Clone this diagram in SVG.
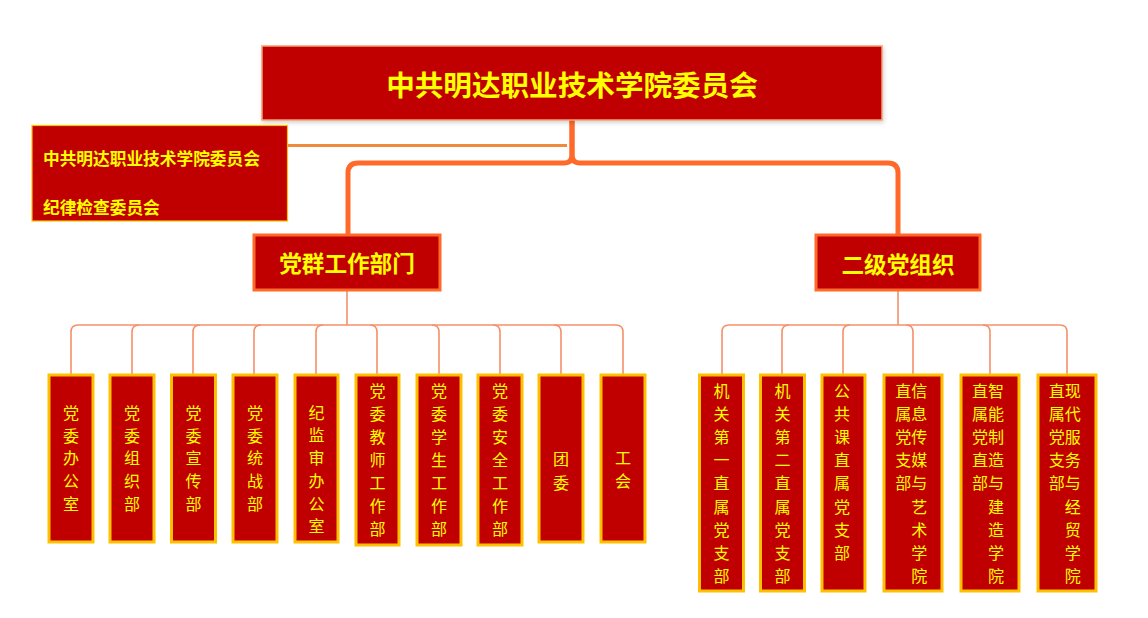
<svg xmlns="http://www.w3.org/2000/svg" width="1148" height="618" viewBox="0 0 1148 618">
<defs>
<filter id="sh" x="-5%" y="-10%" width="110%" height="130%">
<feDropShadow dx="1" dy="2" stdDeviation="2" flood-color="#000" flood-opacity="0.18"/>
</filter>
</defs>
<style>
.box{fill:#C00000}
.top{stroke:#F4A070;stroke-width:1.5}
.side{stroke:#FFC000;stroke-width:1.2}
.mid{stroke:#FF6A2A;stroke-width:3}
.leaf{stroke:#FFC000;stroke-width:3}
.t{font-family:"Noto Sans CJK SC","Noto Sans",sans-serif;fill:#FFFF00;dominant-baseline:central}
.b{font-weight:bold}
.c{text-anchor:middle}
.lt{font-size:16px}
.thick{fill:none;stroke:#FF6A2A;stroke-width:5;stroke-linejoin:round}
.side-line{fill:none;stroke:#F08A3C;stroke-width:3.2}
.thin{fill:none;stroke:#F4906A;stroke-width:1.6}
</style>
<rect x="0" y="0" width="1148" height="618" fill="#FFFFFF"/>

<g id="connectors">
<path class="side-line" d="M288,145.5 H567"/>
<path class="thick" d="M572,120 V155 Q572,163 564,163 H358 Q348,163 348,173 V235"/>
<path class="thick" d="M572,120 V155 Q572,163 580,163 H888 Q898,163 898,173 V235"/>
<path class="thin" d="M347,290 V325"/>
<path class="thin" d="M898,290 V325"/>
<path class="thin" d="M78,325 H616"/>
<path class="thin" d="M78,325 Q71,325 71,332 V375"/>
<path class="thin" d="M139,325 Q132,325 132,332 V375"/>
<path class="thin" d="M200,325 Q193,325 193,332 V375"/>
<path class="thin" d="M261,325 Q254,325 254,332 V375"/>
<path class="thin" d="M323,325 Q316,325 316,332 V375"/>
<path class="thin" d="M370,325 Q377,325 377,332 V375"/>
<path class="thin" d="M432,325 Q439,325 439,332 V375"/>
<path class="thin" d="M493,325 Q500,325 500,332 V375"/>
<path class="thin" d="M554,325 Q561,325 561,332 V375"/>
<path class="thin" d="M616,325 Q623,325 623,332 V375"/>
<path class="thin" d="M729,325 H1060"/>
<path class="thin" d="M729,325 Q722,325 722,332 V375"/>
<path class="thin" d="M789,325 Q782,325 782,332 V375"/>
<path class="thin" d="M850,325 Q843,325 843,332 V375"/>
<path class="thin" d="M906,325 Q913,325 913,332 V375"/>
<path class="thin" d="M983,325 Q990,325 990,332 V375"/>
<path class="thin" d="M1060,325 Q1067,325 1067,332 V375"/>
</g>

<g id="root">
<rect class="box top" x="262" y="46" width="620" height="74" filter="url(#sh)"/>
<text class="t b c" x="572" y="83" font-size="28.6">中共明达职业技术学院委员会</text>
</g>

<g id="discipline">
<rect class="box side" x="32" y="125.5" width="255.5" height="95.5"/>
<text class="t b" x="43" y="157.5" font-size="16.7">中共明达职业技术学院委员会</text>
<text class="t b" x="43" y="206.5" font-size="16.7">纪律检查委员会</text>
</g>

<g id="dept">
<rect class="box mid" x="254" y="235" width="186" height="55"/>
<text class="t b c" x="347" y="262.5" font-size="22.6">党群工作部门</text>
</g>

<g id="org">
<rect class="box mid" x="816" y="235" width="164" height="55"/>
<text class="t b c" x="898" y="263" font-size="22.6">二级党组织</text>
</g>

<g id="l1"><rect class="box leaf" x="49" y="375" width="44" height="167"/>
<text class="t c lt"><tspan x="71" y="411.7">党</tspan><tspan x="71" dy="22.8">委</tspan><tspan x="71" dy="22.8">办</tspan><tspan x="71" dy="22.8">公</tspan><tspan x="71" dy="22.8">室</tspan></text></g>
<g id="l2"><rect class="box leaf" x="110" y="375" width="44" height="167"/>
<text class="t c lt"><tspan x="132" y="411.7">党</tspan><tspan x="132" dy="22.8">委</tspan><tspan x="132" dy="22.8">组</tspan><tspan x="132" dy="22.8">织</tspan><tspan x="132" dy="22.8">部</tspan></text></g>
<g id="l3"><rect class="box leaf" x="171.5" y="375" width="44" height="167"/>
<text class="t c lt"><tspan x="193.5" y="411.7">党</tspan><tspan x="193.5" dy="22.8">委</tspan><tspan x="193.5" dy="22.8">宣</tspan><tspan x="193.5" dy="22.8">传</tspan><tspan x="193.5" dy="22.8">部</tspan></text></g>
<g id="l4"><rect class="box leaf" x="233" y="375" width="44" height="167"/>
<text class="t c lt"><tspan x="255" y="411.7">党</tspan><tspan x="255" dy="22.8">委</tspan><tspan x="255" dy="22.8">统</tspan><tspan x="255" dy="22.8">战</tspan><tspan x="255" dy="22.8">部</tspan></text></g>
<g id="l5"><rect class="box leaf" x="295" y="375" width="43" height="167"/>
<text class="t c lt"><tspan x="316.5" y="411.7">纪</tspan><tspan x="316.5" dy="22.7">监</tspan><tspan x="316.5" dy="22.7">审</tspan><tspan x="316.5" dy="22.7">办</tspan><tspan x="316.5" dy="22.7">公</tspan><tspan x="316.5" dy="22.7">室</tspan></text></g>
<g id="l6"><rect class="box leaf" x="356" y="375" width="43" height="170"/>
<text class="t c lt"><tspan x="377.5" y="390">党</tspan><tspan x="377.5" dy="23">委</tspan><tspan x="377.5" dy="23">教</tspan><tspan x="377.5" dy="23">师</tspan><tspan x="377.5" dy="23">工</tspan><tspan x="377.5" dy="23">作</tspan><tspan x="377.5" dy="23">部</tspan></text></g>
<g id="l7"><rect class="box leaf" x="417" y="375" width="44" height="170"/>
<text class="t c lt"><tspan x="439" y="390">党</tspan><tspan x="439" dy="23">委</tspan><tspan x="439" dy="23">学</tspan><tspan x="439" dy="23">生</tspan><tspan x="439" dy="23">工</tspan><tspan x="439" dy="23">作</tspan><tspan x="439" dy="23">部</tspan></text></g>
<g id="l8"><rect class="box leaf" x="478" y="375" width="44" height="170"/>
<text class="t c lt"><tspan x="500" y="390">党</tspan><tspan x="500" dy="23">委</tspan><tspan x="500" dy="23">安</tspan><tspan x="500" dy="23">全</tspan><tspan x="500" dy="23">工</tspan><tspan x="500" dy="23">作</tspan><tspan x="500" dy="23">部</tspan></text></g>
<g id="l9"><rect class="box leaf" x="539" y="375" width="44" height="167"/>
<text class="t c lt"><tspan x="561" y="458">团</tspan><tspan x="561" dy="23.5">委</tspan></text></g>
<g id="l10"><rect class="box leaf" x="601" y="375" width="44" height="167"/>
<text class="t c lt"><tspan x="623" y="456.7">工</tspan><tspan x="623" dy="23.5">会</tspan></text></g>

<g id="r1"><rect class="box leaf" x="699.5" y="375" width="44" height="216"/>
<text class="t c lt"><tspan x="721.5" y="390">机</tspan><tspan x="721.5" dy="23.1">关</tspan><tspan x="721.5" dy="23.1">第</tspan><tspan x="721.5" dy="23.1">一</tspan><tspan x="721.5" dy="23.1">直</tspan><tspan x="721.5" dy="23.1">属</tspan><tspan x="721.5" dy="23.1">党</tspan><tspan x="721.5" dy="23.1">支</tspan><tspan x="721.5" dy="23.1">部</tspan></text></g>
<g id="r2"><rect class="box leaf" x="760.5" y="375" width="44" height="216"/>
<text class="t c lt"><tspan x="782.5" y="390">机</tspan><tspan x="782.5" dy="23.1">关</tspan><tspan x="782.5" dy="23.1">第</tspan><tspan x="782.5" dy="23.1">二</tspan><tspan x="782.5" dy="23.1">直</tspan><tspan x="782.5" dy="23.1">属</tspan><tspan x="782.5" dy="23.1">党</tspan><tspan x="782.5" dy="23.1">支</tspan><tspan x="782.5" dy="23.1">部</tspan></text></g>
<g id="r3"><rect class="box leaf" x="822" y="375" width="43" height="216"/>
<text class="t c lt"><tspan x="842" y="390">公</tspan><tspan x="842" dy="23.1">共</tspan><tspan x="842" dy="23.1">课</tspan><tspan x="842" dy="23.1">直</tspan><tspan x="842" dy="23.1">属</tspan><tspan x="842" dy="23.1">党</tspan><tspan x="842" dy="23.1">支</tspan><tspan x="842" dy="23.1">部</tspan></text></g>
<g id="r4"><rect class="box leaf" x="884" y="375" width="58" height="216"/>
<text class="t c lt"><tspan x="919.3" y="390">信</tspan><tspan x="919.3" dy="23.1">息</tspan><tspan x="919.3" dy="23.1">传</tspan><tspan x="919.3" dy="23.1">媒</tspan><tspan x="919.3" dy="23.1">与</tspan><tspan x="919.3" dy="23.1">艺</tspan><tspan x="919.3" dy="23.1">术</tspan><tspan x="919.3" dy="23.1">学</tspan><tspan x="919.3" dy="23.1">院</tspan></text>
<text class="t c lt"><tspan x="903.3" y="390">直</tspan><tspan x="903.3" dy="23.1">属</tspan><tspan x="903.3" dy="23.1">党</tspan><tspan x="903.3" dy="23.1">支</tspan><tspan x="903.3" dy="23.1">部</tspan></text></g>
<g id="r5"><rect class="box leaf" x="961" y="375" width="58" height="216"/>
<text class="t c lt"><tspan x="996" y="390">智</tspan><tspan x="996" dy="23.1">能</tspan><tspan x="996" dy="23.1">制</tspan><tspan x="996" dy="23.1">造</tspan><tspan x="996" dy="23.1">与</tspan><tspan x="996" dy="23.1">建</tspan><tspan x="996" dy="23.1">造</tspan><tspan x="996" dy="23.1">学</tspan><tspan x="996" dy="23.1">院</tspan></text>
<text class="t c lt"><tspan x="980" y="390">直</tspan><tspan x="980" dy="23.1">属</tspan><tspan x="980" dy="23.1">党</tspan><tspan x="980" dy="23.1">直</tspan><tspan x="980" dy="23.1">部</tspan></text></g>
<g id="r6"><rect class="box leaf" x="1038" y="375" width="58" height="216"/>
<text class="t c lt"><tspan x="1072.7" y="390">现</tspan><tspan x="1072.7" dy="23.1">代</tspan><tspan x="1072.7" dy="23.1">服</tspan><tspan x="1072.7" dy="23.1">务</tspan><tspan x="1072.7" dy="23.1">与</tspan><tspan x="1072.7" dy="23.1">经</tspan><tspan x="1072.7" dy="23.1">贸</tspan><tspan x="1072.7" dy="23.1">学</tspan><tspan x="1072.7" dy="23.1">院</tspan></text>
<text class="t c lt"><tspan x="1056.7" y="390">直</tspan><tspan x="1056.7" dy="23.1">属</tspan><tspan x="1056.7" dy="23.1">党</tspan><tspan x="1056.7" dy="23.1">支</tspan><tspan x="1056.7" dy="23.1">部</tspan></text></g>
</svg>
